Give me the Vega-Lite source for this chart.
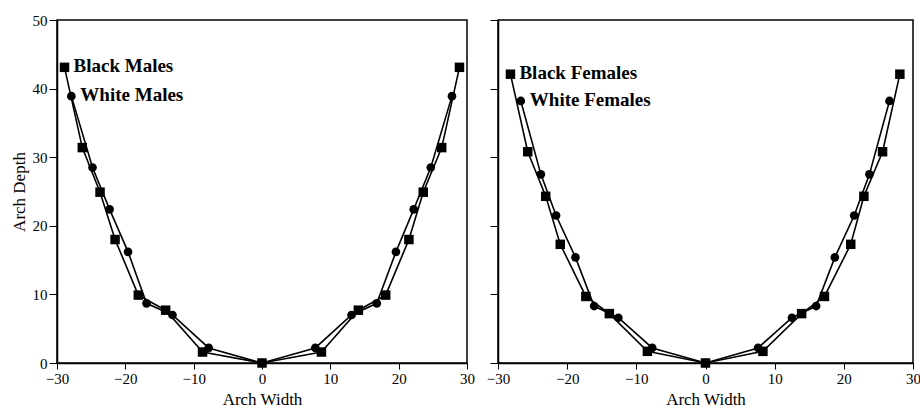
{
  "$schema": "https://vega.github.io/schema/vega-lite/v6.json",
  "background": "white",
  "padding": {"left": 9, "top": 12, "right": 0, "bottom": 0},
  "bounds": "flush",
  "spacing": 31,
  "config": {
    "view": {"stroke": "black", "strokeWidth": 1.5},
    "scale": {"continuousPadding": 0},
    "axis": {
      "grid": false,
      "labelFlush": false,
      "labelOverlap": false,
      "domainColor": "black",
      "domainWidth": 1.5,
      "tickColor": "black",
      "tickWidth": 1,
      "labelColor": "black",
      "titleColor": "black",
      "labelFont": "Liberation Serif",
      "titleFont": "Liberation Serif",
      "labelFontSize": 15,
      "titleFontSize": 17,
      "titleFontWeight": "normal"
    }
  },
  "datasets": {
    "arch": [
      {"sex": "Males", "race": "White", "width": -27.9, "depth": 38.9},
      {"sex": "Males", "race": "White", "width": -24.8, "depth": 28.5},
      {"sex": "Males", "race": "White", "width": -22.3, "depth": 22.4},
      {"sex": "Males", "race": "White", "width": -19.6, "depth": 16.2},
      {"sex": "Males", "race": "White", "width": -16.9, "depth": 8.7},
      {"sex": "Males", "race": "White", "width": -13.1, "depth": 7.0},
      {"sex": "Males", "race": "White", "width": -7.8, "depth": 2.2},
      {"sex": "Males", "race": "White", "width": 0, "depth": 0},
      {"sex": "Males", "race": "White", "width": 7.8, "depth": 2.2},
      {"sex": "Males", "race": "White", "width": 13.1, "depth": 7.0},
      {"sex": "Males", "race": "White", "width": 16.8, "depth": 8.7},
      {"sex": "Males", "race": "White", "width": 19.6, "depth": 16.2},
      {"sex": "Males", "race": "White", "width": 22.2, "depth": 22.4},
      {"sex": "Males", "race": "White", "width": 24.7, "depth": 28.5},
      {"sex": "Males", "race": "White", "width": 27.8, "depth": 38.9},
      {"sex": "Males", "race": "Black", "width": -28.9, "depth": 43.1},
      {"sex": "Males", "race": "Black", "width": -26.3, "depth": 31.4},
      {"sex": "Males", "race": "Black", "width": -23.7, "depth": 24.9},
      {"sex": "Males", "race": "Black", "width": -21.5, "depth": 18.0},
      {"sex": "Males", "race": "Black", "width": -18.1, "depth": 9.9},
      {"sex": "Males", "race": "Black", "width": -14.1, "depth": 7.7},
      {"sex": "Males", "race": "Black", "width": -8.7, "depth": 1.6},
      {"sex": "Males", "race": "Black", "width": 0, "depth": 0},
      {"sex": "Males", "race": "Black", "width": 8.7, "depth": 1.6},
      {"sex": "Males", "race": "Black", "width": 14.1, "depth": 7.7},
      {"sex": "Males", "race": "Black", "width": 18.1, "depth": 9.9},
      {"sex": "Males", "race": "Black", "width": 21.5, "depth": 18.0},
      {"sex": "Males", "race": "Black", "width": 23.6, "depth": 24.9},
      {"sex": "Males", "race": "Black", "width": 26.3, "depth": 31.4},
      {"sex": "Males", "race": "Black", "width": 28.9, "depth": 43.1},
      {"sex": "Females", "race": "White", "width": -26.7, "depth": 38.2},
      {"sex": "Females", "race": "White", "width": -23.8, "depth": 27.5},
      {"sex": "Females", "race": "White", "width": -21.6, "depth": 21.5},
      {"sex": "Females", "race": "White", "width": -18.8, "depth": 15.4},
      {"sex": "Females", "race": "White", "width": -16.1, "depth": 8.3},
      {"sex": "Females", "race": "White", "width": -12.6, "depth": 6.6},
      {"sex": "Females", "race": "White", "width": -7.7, "depth": 2.2},
      {"sex": "Females", "race": "White", "width": 0, "depth": 0},
      {"sex": "Females", "race": "White", "width": 7.6, "depth": 2.2},
      {"sex": "Females", "race": "White", "width": 12.5, "depth": 6.6},
      {"sex": "Females", "race": "White", "width": 16.0, "depth": 8.3},
      {"sex": "Females", "race": "White", "width": 18.7, "depth": 15.4},
      {"sex": "Females", "race": "White", "width": 21.5, "depth": 21.5},
      {"sex": "Females", "race": "White", "width": 23.7, "depth": 27.5},
      {"sex": "Females", "race": "White", "width": 26.6, "depth": 38.2},
      {"sex": "Females", "race": "Black", "width": -28.2, "depth": 42.1},
      {"sex": "Females", "race": "Black", "width": -25.7, "depth": 30.8},
      {"sex": "Females", "race": "Black", "width": -23.1, "depth": 24.3},
      {"sex": "Females", "race": "Black", "width": -21.0, "depth": 17.3},
      {"sex": "Females", "race": "Black", "width": -17.3, "depth": 9.7},
      {"sex": "Females", "race": "Black", "width": -13.9, "depth": 7.2},
      {"sex": "Females", "race": "Black", "width": -8.4, "depth": 1.7},
      {"sex": "Females", "race": "Black", "width": 0, "depth": 0},
      {"sex": "Females", "race": "Black", "width": 8.3, "depth": 1.7},
      {"sex": "Females", "race": "Black", "width": 13.9, "depth": 7.2},
      {"sex": "Females", "race": "Black", "width": 17.2, "depth": 9.7},
      {"sex": "Females", "race": "Black", "width": 21.0, "depth": 17.3},
      {"sex": "Females", "race": "Black", "width": 22.9, "depth": 24.3},
      {"sex": "Females", "race": "Black", "width": 25.6, "depth": 30.8},
      {"sex": "Females", "race": "Black", "width": 28.1, "depth": 42.1}
    ]
  },
  "hconcat": [
    {
      "width": 410,
      "height": 343,
      "data": {"name": "arch"},
      "transform": [{"filter": "datum.sex === 'Males'"}],
      "encoding": {
        "x": {"field": "width", "type": "quantitative", "scale": {"domain": [-30, 30], "nice": false, "padding": 0},
              "axis": {"title": "Arch Width", "values": [-30, -20, -10, 0, 10, 20, 30], "tickSize": 6, "labelPadding": 2, "titlePadding": 5}},
        "y": {"field": "depth", "type": "quantitative", "scale": {"domain": [0, 50], "nice": false, "padding": 0},
              "axis": {"title": "Arch Depth", "values": [0, 10, 20, 30, 40, 50], "tickSize": 8, "labelPadding": 2, "titlePadding": 4}}
      },
      "layer": [
        {"mark": {"type": "line", "color": "black", "strokeWidth": 1.6}, "encoding": {"detail": {"field": "race"}, "order": {"field": "width"}}},
        {"mark": {"type": "point", "filled": true, "color": "black", "opacity": 1},
         "encoding": {
           "shape": {"field": "race", "scale": {"domain": ["Black", "White"], "range": ["square", "circle"]}, "legend": null},
           "size": {"field": "race", "scale": {"domain": ["Black", "White"], "range": [90, 75]}, "legend": null}}},
        {"transform": [
           {"joinaggregate": [{"op": "min", "field": "width", "as": "minw"}], "groupby": ["race"]},
           {"filter": "datum.width === datum.minw"},
           {"calculate": "datum.race + ' ' + datum.sex", "as": "label"}],
         "mark": {"type": "text", "align": "left", "baseline": "middle", "dx": 9, "dy": -1, "font": "Liberation Serif", "fontWeight": "bold", "fontSize": 19, "color": "black"},
         "encoding": {"text": {"field": "label"}}}
      ]
    },
    {
      "width": 415,
      "height": 343,
      "data": {"name": "arch"},
      "transform": [{"filter": "datum.sex === 'Females'"}],
      "encoding": {
        "x": {"field": "width", "type": "quantitative", "scale": {"domain": [-30, 30], "nice": false, "padding": 0},
              "axis": {"title": "Arch Width", "values": [-30, -20, -10, 0, 10, 20, 30], "tickSize": 6, "labelPadding": 2, "titlePadding": 5}},
        "y": {"field": "depth", "type": "quantitative", "scale": {"domain": [0, 50], "nice": false, "padding": 0},
              "axis": {"title": null, "labels": false, "values": [0, 10, 20, 30, 40, 50], "tickSize": 8}}
      },
      "layer": [
        {"mark": {"type": "line", "color": "black", "strokeWidth": 1.6}, "encoding": {"detail": {"field": "race"}, "order": {"field": "width"}}},
        {"mark": {"type": "point", "filled": true, "color": "black", "opacity": 1},
         "encoding": {
           "shape": {"field": "race", "scale": {"domain": ["Black", "White"], "range": ["square", "circle"]}, "legend": null},
           "size": {"field": "race", "scale": {"domain": ["Black", "White"], "range": [90, 75]}, "legend": null}}},
        {"transform": [
           {"joinaggregate": [{"op": "min", "field": "width", "as": "minw"}], "groupby": ["race"]},
           {"filter": "datum.width === datum.minw"},
           {"calculate": "datum.race + ' ' + datum.sex", "as": "label"}],
         "mark": {"type": "text", "align": "left", "baseline": "middle", "dx": 9, "dy": -1, "font": "Liberation Serif", "fontWeight": "bold", "fontSize": 19, "color": "black"},
         "encoding": {"text": {"field": "label"}}}
      ]
    }
  ]
}
